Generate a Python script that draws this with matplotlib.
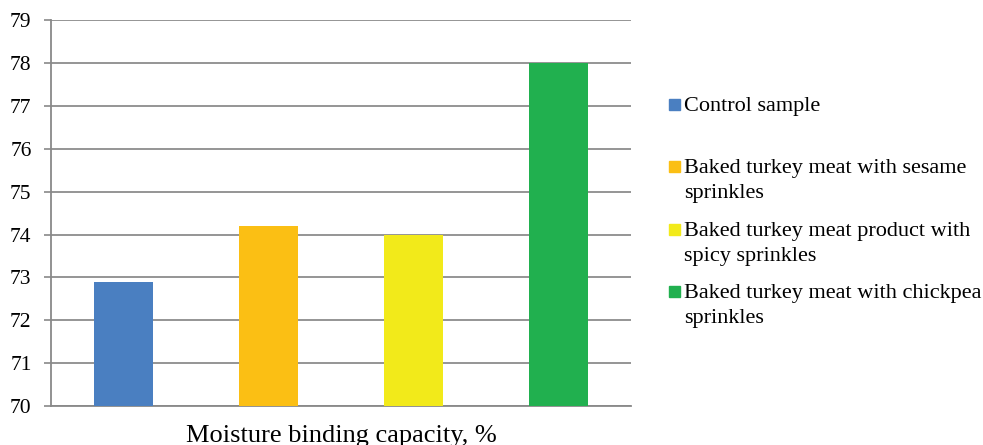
import matplotlib.pyplot as plt
from matplotlib.patches import Rectangle

samples = ["Control sample",
           "Baked turkey meat with sesame\nsprinkles",
           "Baked turkey meat product with\nspicy sprinkles",
           "Baked turkey meat with chickpea\nsprinkles"]
moisture = [72.9, 74.2, 74.0, 78.0]
colors = ["#4a7fc1", "#fbbf14", "#f2ea1a", "#21b04f"]
yticks = list(range(70, 80))

plt.rcParams["font.family"] = ["Liberation Serif", "DejaVu Serif"]

W, H = 983, 445
fig = plt.figure(figsize=(W / 100, H / 100), dpi=100)
ax = fig.add_axes([0.0519, 0.0876, 0.590, 0.867])

ax.bar(range(len(moisture)), moisture, width=0.41, color=colors, zorder=3)
ax.set_xlim(-0.5, 3.5)
ax.set_ylim(70, 79)
ax.set_yticks(yticks)
ax.tick_params(axis="y", labelsize=15.5, length=5, width=1.2, color="#898989",
               pad=9)
ax.set_xticks([])
ax.grid(axis="y", color="#8c8c8c", linewidth=1.3, zorder=0)
for side in ["top", "right"]:
    ax.spines[side].set_visible(False)
for side in ["left", "bottom"]:
    ax.spines[side].set_color("#898989")
    ax.spines[side].set_linewidth(1.3)

ax.set_xlabel("Moisture binding capacity, %", fontsize=19, labelpad=14)

# legend on the right: square swatch beside the first line of each label
for i, (label, c) in enumerate(zip(samples, colors)):
    base = 111 + i * 62.3
    fig.patches.append(Rectangle((669 / W, 1 - (base - 1) / H), 11 / W, 11 / H,
                                 transform=fig.transFigure, color=c))
    for j, line in enumerate(label.split("\n")):
        fig.text(684 / W, 1 - (base + 25 * j) / H, line, fontsize=16,
                 va="baseline", ha="left")

fig.savefig("out.png", dpi=100)
